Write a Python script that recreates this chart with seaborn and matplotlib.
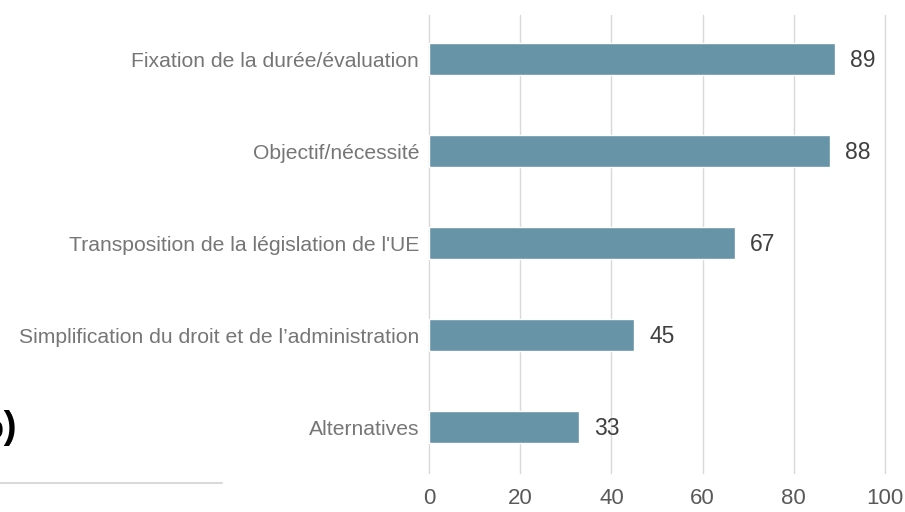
import matplotlib
matplotlib.use("Agg")
import matplotlib.pyplot as plt
import seaborn as sns
import pandas as pd

sns.set_theme(style="white")
plt.rcParams['font.family'] = ['Liberation Sans', 'DejaVu Sans']

# data
categories = ["Fixation de la durée/évaluation",
              "Objectif/nécessité",
              "Transposition de la législation de l'UE",
              "Simplification du droit et de l’administration",
              "Alternatives"]
values = [89, 88, 67, 45, 33]
xticks = [0, 20, 40, 60, 80, 100]

df = pd.DataFrame({'cat': categories, 'val': values})

fig = plt.figure(figsize=(9.05, 5.12), dpi=100)
ax = fig.add_axes([0.474, 0.076, 0.504, 0.895])

sns.barplot(data=df, x='val', y='cat', orient='h', color='#6794a7',
            saturation=1, width=0.35, ax=ax)

for i, v in enumerate(values):
    ax.text(v + 3.3, i + 0.02, str(v), va='center', ha='left', fontsize=16.5, color='#404040')

ax.set_xlim(0, 100)
ax.set_ylim(4.5, -0.48)
ax.set_xticks(xticks)
ax.set_xticklabels([str(t) for t in xticks], fontsize=16, color='#595959')
ax.tick_params(axis='x', length=0, pad=11)
ax.tick_params(axis='y', length=0, pad=7, labelsize=15.2, labelcolor='#767676')
ax.set_xlabel('')
ax.set_ylabel('')
ax.xaxis.grid(True, color='#d9d9d9', linewidth=1)
for gl in ax.get_xgridlines():
    gl.set_clip_on(False)
ax.set_axisbelow(True)
for s in ax.spines.values():
    s.set_visible(False)

# cropped remnants from the source page on the left
fig.text(16 / 905, 1 - 428 / 512, "%)", ha='right', va='center',
         fontsize=28, fontweight='bold', color='black')
fig.add_artist(plt.Line2D([0, 222 / 905], [1 - 483 / 512, 1 - 483 / 512],
                          color='#d9d9d9', linewidth=1.5, transform=fig.transFigure))

fig.savefig('out.png', dpi=100)
